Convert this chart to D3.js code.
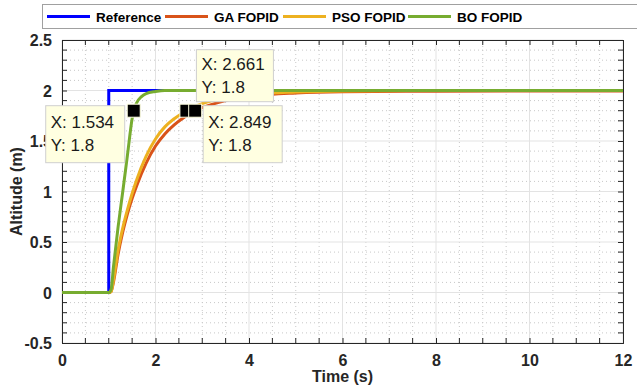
<!DOCTYPE html>
<html>
<head>
<meta charset="utf-8">
<script src="https://cdn.jsdelivr.net/npm/d3@7"></script>
<style>
  body { margin: 0; background: #fff; }
  svg { display: block; font-family: "Liberation Sans", Arial, sans-serif; }
</style>
</head>
<body>
<div id="chart"></div>
<script>
// series
const seriesNames = ['Reference', 'GA FOPID', 'PSO FOPID', 'BO FOPID'];

const refT = [0, 1, 1, 12];
const refY = [0, 0, 2, 2];

const gaT = [0, 1.0, 1.05, 1.1, 1.2, 1.3, 1.4, 1.5, 1.6, 1.8, 2.0, 2.2, 2.4, 2.6, 2.849, 3.0, 3.5, 4.0, 5.0, 6.0, 8.0, 12];
const gaY = [0, 0, 0.01, 0.1, 0.38, 0.6, 0.78, 0.93, 1.06, 1.28, 1.45, 1.57, 1.66, 1.73, 1.8, 1.83, 1.9, 1.94, 1.975, 1.988, 1.993, 1.995];

const psoT = [0, 1.0, 1.05, 1.1, 1.2, 1.3, 1.4, 1.5, 1.6, 1.8, 2.0, 2.2, 2.4, 2.661, 3.0, 3.5, 4.0, 5.0, 6.0, 8.0, 12];
const psoY = [0, 0, 0.01, 0.12, 0.42, 0.64, 0.82, 0.98, 1.12, 1.35, 1.52, 1.64, 1.72, 1.8, 1.87, 1.93, 1.96, 1.985, 1.995, 2.0, 2.0];

const boT = [0, 1.0, 1.05, 1.1, 1.2, 1.3, 1.4, 1.5, 1.534, 1.6, 1.7, 1.8, 2.0, 2.2, 12];
const boY = [0, 0, 0.03, 0.25, 0.65, 1.0, 1.36, 1.72, 1.8, 1.88, 1.94, 1.97, 1.99, 2.0, 2.0];

// data tips
const tipX = [1.534, 2.661, 2.849];
const tipY = [1.8, 1.8, 1.8];

const xTicks = [0, 2, 4, 6, 8, 10, 12];
const yTicks = [-0.5, 0, 0.5, 1, 1.5, 2, 2.5];

const colors = ['#0000ff', '#d95319', '#edb120', '#77ac30'];

const width = 637, height = 385;
const margin = {left: 62, right: 14, top: 40, bottom: 42};

const svg = d3.select('#chart').append('svg')
    .attr('width', width)
    .attr('height', height);

const x = d3.scaleLinear().domain([0, 12]).range([margin.left, width - margin.right]);
const y = d3.scaleLinear().domain([-0.5, 2.5]).range([height - margin.bottom, margin.top]);

const x0 = x.range()[0], x1 = x.range()[1];
const y0 = y.range()[0], y1 = y.range()[1];

// minor grid (dotted)
const xMinor = d3.range(0, 12.01, 0.5).filter(v => v % 2 !== 0);
const yMinor = d3.range(-0.5, 2.501, 0.1).map(v => Math.round(v * 10) / 10)
    .filter(v => Math.abs(v * 2 - Math.round(v * 2)) > 1e-6);

const grid = svg.append('g');
grid.selectAll('.xm').data(xMinor).enter().append('line')
    .attr('x1', d => x(d)).attr('x2', d => x(d)).attr('y1', y0).attr('y2', y1)
    .attr('stroke', '#c8c8c8').attr('stroke-width', 1).attr('stroke-dasharray', '1,3');
grid.selectAll('.ym').data(yMinor).enter().append('line')
    .attr('y1', d => y(d)).attr('y2', d => y(d)).attr('x1', x0).attr('x2', x1)
    .attr('stroke', '#c8c8c8').attr('stroke-width', 1).attr('stroke-dasharray', '1,3');

// major grid
grid.selectAll('.xg').data(xTicks).enter().append('line')
    .attr('x1', d => x(d)).attr('x2', d => x(d)).attr('y1', y0).attr('y2', y1)
    .attr('stroke', '#e3e3e3').attr('stroke-width', 1);
grid.selectAll('.yg').data(yTicks).enter().append('line')
    .attr('y1', d => y(d)).attr('y2', d => y(d)).attr('x1', x0).attr('x2', x1)
    .attr('stroke', '#e3e3e3').attr('stroke-width', 1);

// axes, MATLAB style: ticks inside, box on
const tickLen = 5;
const xAxis = d3.axisBottom(x).tickValues(xTicks).tickSize(-tickLen).tickPadding(12).tickFormat(d3.format('d'));
const yAxis = d3.axisLeft(y).tickValues(yTicks).tickSize(-tickLen).tickPadding(10).tickFormat(d => d);

const gx = svg.append('g').attr('transform', `translate(0,${y0})`).call(xAxis);
const gy = svg.append('g').attr('transform', `translate(${x0},0)`).call(yAxis);
const gxTop = svg.append('g').attr('transform', `translate(0,${y1})`)
    .call(d3.axisTop(x).tickValues(xTicks).tickSize(-tickLen).tickFormat(''));
const gyRight = svg.append('g').attr('transform', `translate(${x1},0)`)
    .call(d3.axisRight(y).tickValues(yTicks).tickSize(-tickLen).tickFormat(''));

// minor ticks, pointing inward
const minor = svg.append('g').attr('stroke', '#262626');
minor.selectAll('.mb').data(xMinor).enter().append('line')
    .attr('x1', d => x(d)).attr('x2', d => x(d)).attr('y1', y0).attr('y2', y0 - tickLen);
minor.selectAll('.mt').data(xMinor).enter().append('line')
    .attr('x1', d => x(d)).attr('x2', d => x(d)).attr('y1', y1).attr('y2', y1 + tickLen);
minor.selectAll('.ml').data(yMinor).enter().append('line')
    .attr('y1', d => y(d)).attr('y2', d => y(d)).attr('x1', x0).attr('x2', x0 + tickLen);
minor.selectAll('.mr').data(yMinor).enter().append('line')
    .attr('y1', d => y(d)).attr('y2', d => y(d)).attr('x1', x1).attr('x2', x1 - tickLen);

[gx, gy, gxTop, gyRight].forEach(g => {
    g.select('.domain').attr('stroke', '#262626');
    g.selectAll('.tick line').attr('stroke', '#262626');
    g.selectAll('text')
        .attr('fill', '#262626')
        .style('font-size', '16px')
        .style('font-weight', 'bold');
});
gy.selectAll('text').attr('dy', '0.36em');

// axis titles
svg.append('text')
    .attr('x', (x0 + x1) / 2).attr('y', 382)
    .attr('text-anchor', 'middle')
    .attr('fill', '#262626')
    .style('font-size', '16px').style('font-weight', 'bold')
    .text('Time (s)');
svg.append('text')
    .attr('transform', `translate(22,${(y0 + y1) / 2}) rotate(-90)`)
    .attr('text-anchor', 'middle')
    .attr('fill', '#262626')
    .style('font-size', '16px').style('font-weight', 'bold')
    .text('Altitude (m)');

// lines
svg.append('clipPath').attr('id', 'clip').append('rect')
    .attr('x', x0).attr('y', y1).attr('width', x1 - x0).attr('height', y0 - y1);

const series = [
    refT.map((t, i) => [t, refY[i]]),
    gaT.map((t, i) => [t, gaY[i]]),
    psoT.map((t, i) => [t, psoY[i]]),
    boT.map((t, i) => [t, boY[i]])
];
const curved = [false, true, true, true];

const plot = svg.append('g').attr('clip-path', 'url(#clip)');
series.forEach((s, i) => {
    const line = d3.line()
        .x(d => x(d[0])).y(d => y(d[1]))
        .curve(curved[i] ? d3.curveMonotoneX : d3.curveLinear);
    plot.append('path')
        .datum(s)
        .attr('fill', 'none')
        .attr('stroke', colors[i])
        .attr('stroke-width', 3)
        .attr('d', line);
});

// data tip markers
svg.append('g').selectAll('rect').data(tipX).enter().append('rect')
    .attr('x', (d) => x(d) - 6.5)
    .attr('y', (d, i) => y(tipY[i]) - 6.5)
    .attr('width', 13).attr('height', 13)
    .attr('fill', '#000')
    .attr('stroke', '#ffffe1').attr('stroke-width', 1);

// data tip boxes (offset from marker in px)
const tipDx = [-88, 10, 8];
const tipDy = [-5, -61, -5];
const tipW = [79, 77, 79];
const tipH = [57, 52, 57];

const tips = svg.append('g').selectAll('g').data(tipX).enter().append('g')
    .attr('transform', (d, i) => `translate(${x(d) + tipDx[i]},${y(tipY[i]) + tipDy[i]})`);
tips.append('rect')
    .attr('width', (d, i) => tipW[i]).attr('height', (d, i) => tipH[i])
    .attr('fill', '#ffffe1').attr('stroke', '#cfcfcf').attr('stroke-width', 1);
tips.append('text')
    .attr('x', 5).attr('y', (d, i) => tipH[i] / 2 - 6)
    .style('font-size', '17px').attr('fill', '#1a1a1a')
    .text(d => `X: ${d3.format('.3f')(d)}`);
tips.append('text')
    .attr('x', 5).attr('y', (d, i) => tipH[i] / 2 + 17)
    .style('font-size', '17px').attr('fill', '#1a1a1a')
    .text((d, i) => `Y: ${tipY[i]}`);

// legend
const legend = svg.append('g');
legend.append('rect')
    .attr('x', 42.5).attr('y', 4.5).attr('width', 620).attr('height', 24)
    .attr('fill', '#fff').attr('stroke', '#a0a0a0').attr('stroke-width', 1);
const legX = [47, 165, 283, 408];
seriesNames.forEach((name, i) => {
    legend.append('line')
        .attr('x1', legX[i]).attr('x2', legX[i] + 43)
        .attr('y1', 16.5).attr('y2', 16.5)
        .attr('stroke', colors[i]).attr('stroke-width', 3);
    legend.append('text')
        .attr('x', legX[i] + 49).attr('y', 21.5)
        .attr('fill', '#000')
        .style('font-size', '13.5px').style('font-weight', 'bold')
        .text(name);
});
</script>
</body>
</html>
